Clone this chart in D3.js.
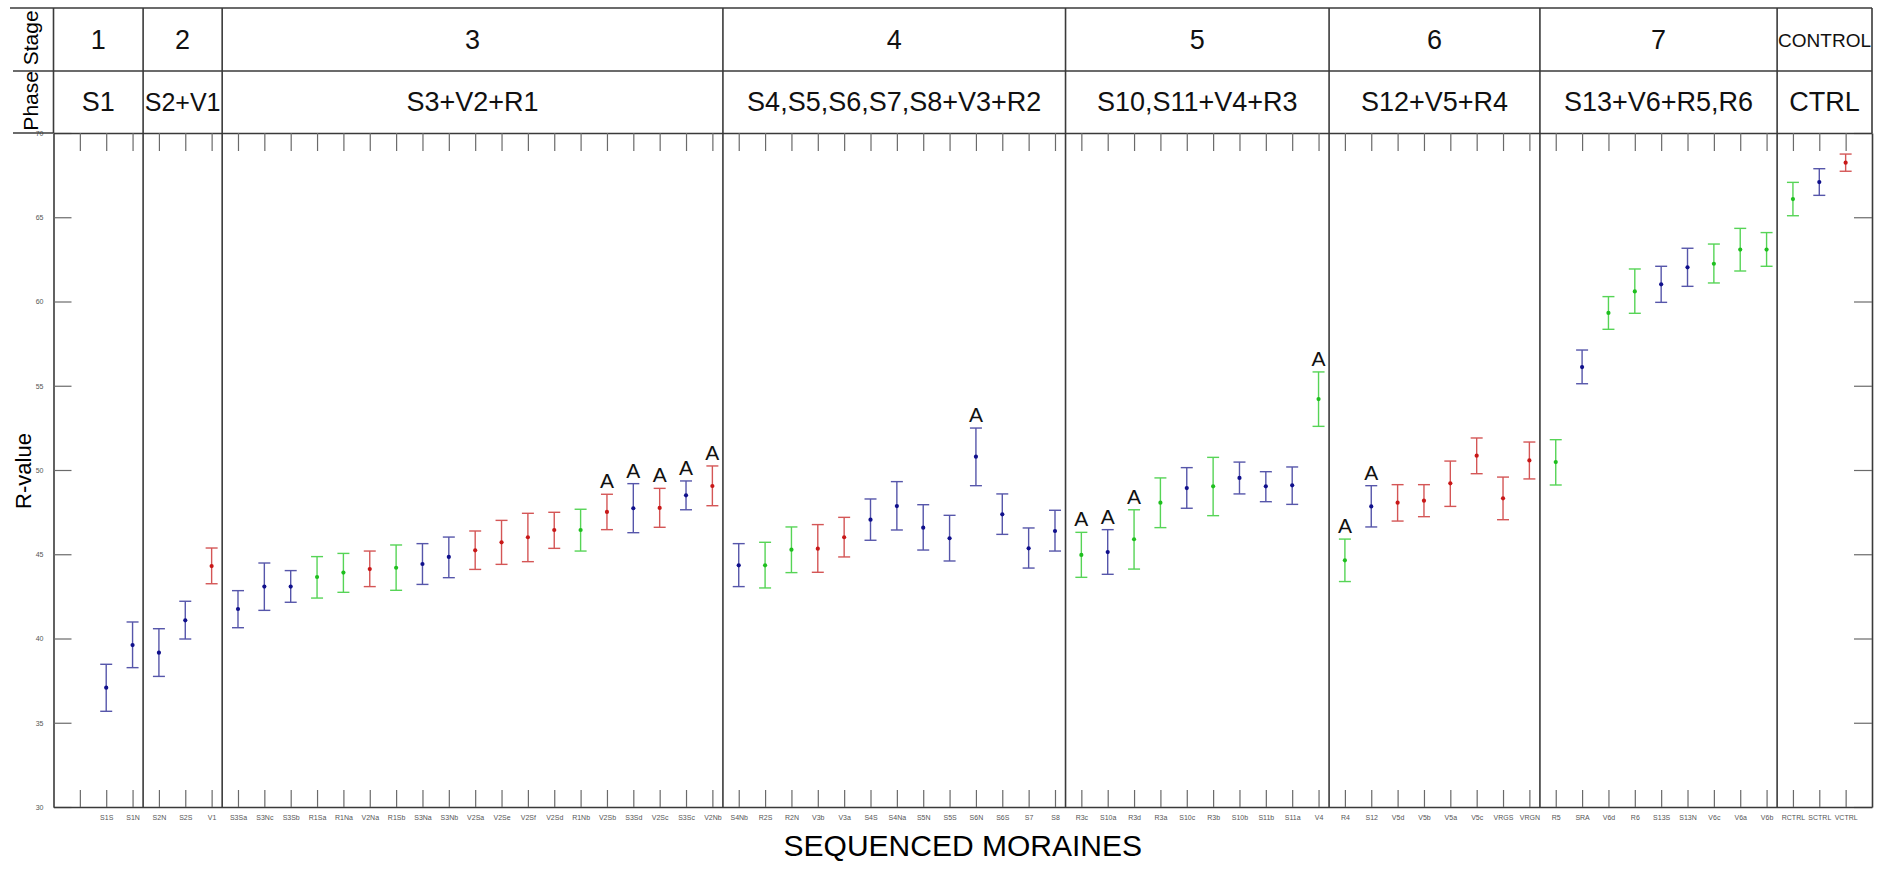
<!DOCTYPE html>
<html>
<head>
<meta charset="utf-8">
<script src="https://cdn.jsdelivr.net/npm/d3@7"></script>
<style>
  body { margin: 0; background: #fff; }
  svg { display: block; font-family: Arial, "Liberation Sans", sans-serif; }
</style>
</head>
<body>
<div id="wrapper"></div>
<script>
const width = 1879
const height = 869

// header rows
const stages = ["1", "2", "3", "4", "5", "6", "7", "CONTROL"]
const phases = ["S1", "S2+V1", "S3+V2+R1", "S4,S5,S6,S7,S8+V3+R2", "S10,S11+V4+R3", "S12+V5+R4", "S13+V6+R5,R6", "CTRL"]

// moraine sites of each stage (first slot of stage 1 is empty)
const groupSites = [
  ["", "S1S", "S1N"],
  ["S2N", "S2S", "V1"],
  ["S3Sa", "S3Nc", "S3Sb", "R1Sa", "R1Na", "V2Na", "R1Sb", "S3Na", "S3Nb", "V2Sa", "V2Se", "V2Sf", "V2Sd", "R1Nb", "V2Sb", "S3Sd", "V2Sc", "S3Sc", "V2Nb"],
  ["S4Nb", "R2S", "R2N", "V3b", "V3a", "S4S", "S4Na", "S5N", "S5S", "S6N", "S6S", "S7", "S8"],
  ["R3c", "S10a", "R3d", "R3a", "S10c", "R3b", "S10b", "S11b", "S11a", "V4"],
  ["R4", "S12", "V5d", "V5b", "V5a", "V5c", "VRGS", "VRGN"],
  ["R5", "SRA", "V6d", "R6", "S13S", "S13N", "V6c", "V6a", "V6b"],
  ["RCTRL", "SCTRL", "VCTRL"]
]
const sites = groupSites.flat()

// R-values, one per site (null = no sample)
const meanR = [null, 37.08, 39.61, 39.16, 41.08, 44.3,
  41.75, 43.08, 43.08, 43.65, 43.91, 44.12, 44.2, 44.42, 44.84, 45.23, 45.71, 46.01, 46.44, 46.44, 47.51, 47.73, 47.75, 48.5, 49.05,
  44.34, 44.34, 45.27, 45.33, 46.01, 47.05, 47.86, 46.58, 45.95, 50.79, 47.37, 45.35, 46.38,
  44.96, 45.13, 45.89, 48.06, 48.93, 49.03, 49.53, 49.03, 49.09, 54.21,
  44.64, 47.84, 48.06, 48.18, 49.21, 50.85, 48.32, 50.57,
  50.47, 56.11, 59.32, 60.6, 61.02, 62.03, 62.24, 63.08, 63.08,
  66.08, 67.09, 68.24]
const lowR = [null, 35.68, 38.27, 37.75, 39.97, 43.25,
  40.64, 41.67, 42.15, 42.4, 42.74, 43.08, 42.86, 43.21, 43.61, 44.1, 44.4, 44.56, 45.35, 45.19, 46.46, 46.28, 46.6, 47.64, 47.88,
  43.08, 43.0, 43.91, 43.93, 44.84, 45.83, 46.44, 45.25, 44.6, 49.07, 46.18, 44.18, 45.19,
  43.63, 43.81, 44.12, 46.58, 47.73, 47.29, 48.58, 48.12, 47.96, 52.59,
  43.38, 46.62, 46.97, 47.23, 47.84, 49.78, 47.05, 49.47,
  49.11, 55.12, 58.35, 59.3, 59.95, 60.9, 61.1, 61.81, 62.09,
  65.09, 66.3, 67.73]
const highR = [null, 38.47, 40.98, 40.58, 42.21, 45.37,
  42.84, 44.48, 44.03, 44.86, 45.05, 45.19, 45.55, 45.63, 46.02, 46.38, 47.01, 47.43, 47.49, 47.67, 48.56, 49.19, 48.91, 49.35, 50.24,
  45.63, 45.71, 46.62, 46.76, 47.19, 48.28, 49.31, 47.94, 47.31, 52.49, 48.58, 46.56, 47.61,
  46.3, 46.46, 47.64, 49.53, 50.14, 50.75, 50.47, 49.9, 50.18, 55.82,
  45.9, 49.07, 49.13, 49.13, 50.53, 51.9, 49.58, 51.66,
  51.8, 57.12, 60.29, 61.93, 62.09, 63.16, 63.41, 64.34, 64.09,
  67.07, 67.88, 68.75]
// colour class of each site: b / r / g
const colorKey = ["", "b", "b", "b", "b", "r",
  "b", "b", "b", "g", "g", "r", "g", "b", "b", "r", "r", "r", "r", "g", "r", "b", "r", "b", "r",
  "b", "g", "g", "r", "r", "b", "b", "b", "b", "b", "b", "b", "b",
  "g", "b", "g", "g", "b", "g", "b", "b", "b", "g",
  "g", "b", "r", "r", "r", "r", "r", "r",
  "g", "b", "g", "g", "b", "b", "g", "g", "g",
  "g", "b", "r"]
// sites marked with "A"
const markedA = ["V2Sb", "S3Sd", "V2Sc", "S3Sc", "V2Nb", "S6N", "R3c", "S10a", "R3d", "V4", "R4", "S12"]

const yTicks = [30, 35, 40, 45, 50, 55, 60, 65, 70]

const plotLeft = 53.5, plotRight = 1872, plotTop = 133, plotBottom = 807
const headTop = 8, headMid = 71

const x = d3.scalePoint().domain(sites).range([plotLeft, plotRight]).padding(1)
const y = d3.scaleLinear().domain([30, 70]).range([plotBottom, plotTop])
const lineColor = d3.scaleOrdinal(["b", "r", "g"], ["#5656aa", "#d45656", "#56d456"])
const dotColor = d3.scaleOrdinal(["b", "r", "g"], ["#10108c", "#c81818", "#1fbf1f"])

const svg = d3.select("#wrapper").append("svg")
    .attr("width", width)
    .attr("height", height)

// axes
svg.append("g")
    .attr("transform", `translate(${plotLeft},0)`)
    .call(d3.axisLeft(y).tickValues(yTicks).tickSizeInner(-18).tickSizeOuter(0).tickPadding(10))
svg.append("g")
    .attr("transform", `translate(${plotRight},0)`)
    .call(d3.axisRight(y).tickValues(yTicks).tickSizeInner(-18).tickSizeOuter(0).tickFormat(""))
svg.append("g")
    .attr("transform", `translate(0,${plotBottom})`)
    .call(d3.axisBottom(x).tickSizeInner(-17).tickSizeOuter(0).tickPadding(8))
svg.append("g")
    .attr("transform", `translate(0,${plotTop})`)
    .call(d3.axisTop(x).tickSizeInner(-18).tickSizeOuter(0).tickFormat(""))

svg.selectAll(".domain").attr("stroke", "#3a3a3a").attr("stroke-width", 1.6)
svg.selectAll(".tick line").attr("stroke", "#6a6a6a").attr("stroke-width", 1.2)
svg.selectAll(".tick text").attr("font-size", 7).attr("fill", "#555")

// header frame
const frame = svg.append("g").attr("stroke", "#3a3a3a").attr("stroke-width", 1.6)
frame.append("line").attr("x1", 10).attr("x2", plotRight).attr("y1", headTop).attr("y2", headTop)
frame.append("line").attr("x1", 13).attr("x2", plotRight).attr("y1", headMid).attr("y2", headMid)
frame.append("line").attr("x1", 13).attr("x2", plotLeft).attr("y1", plotTop).attr("y2", plotTop)
frame.append("line").attr("x1", plotLeft).attr("x2", plotLeft).attr("y1", headTop).attr("y2", plotTop)
frame.append("line").attr("x1", plotRight).attr("x2", plotRight).attr("y1", headTop).attr("y2", plotTop)

// stage dividers
const step = x.step()
const bounds = [plotLeft]
groupSites.forEach((g, i) => {
  if (i < groupSites.length - 1) bounds.push(x(g[g.length - 1]) + step * 0.4)
})
bounds.push(plotRight)
frame.selectAll(".divider")
    .data(bounds.slice(1, -1))
    .join("line")
    .attr("x1", d => d).attr("x2", d => d)
    .attr("y1", headTop).attr("y2", plotBottom)

// header labels
const head = svg.append("g").attr("text-anchor", "middle").attr("fill", "#111")
head.selectAll(".stage")
    .data(stages)
    .join("text")
    .attr("x", (d, i) => (bounds[i] + bounds[i + 1]) / 2)
    .attr("y", 40)
    .attr("dy", "0.35em")
    .attr("font-size", d => d.length > 3 ? 19 : 27)
    .text(d => d)
head.selectAll(".phase")
    .data(phases)
    .join("text")
    .attr("x", (d, i) => (bounds[i] + bounds[i + 1]) / 2)
    .attr("y", 102)
    .attr("dy", "0.35em")
    .attr("font-size", (d, i) => i === 1 ? 25 : 27)
    .text(d => d)

svg.append("text")
    .attr("transform", `translate(31,${(headTop + plotTop) / 2}) rotate(-90)`)
    .attr("text-anchor", "middle")
    .attr("dy", "0.35em")
    .attr("font-size", 21)
    .text("Phase Stage")

svg.append("text")
    .attr("transform", `translate(23,471) rotate(-90)`)
    .attr("text-anchor", "middle")
    .attr("dy", "0.35em")
    .attr("font-size", 22)
    .text("R-value")

svg.append("text")
    .attr("x", (plotLeft + plotRight) / 2)
    .attr("y", 856)
    .attr("text-anchor", "middle")
    .attr("font-size", 30)
    .text("SEQUENCED MORAINES")

// error bars
const rows = sites.map((s, i) => ({site: s, mean: meanR[i], lo: lowR[i], hi: highR[i], key: colorKey[i]}))
    .filter(d => d.mean != null)

const bars = svg.append("g").selectAll("g")
    .data(rows)
    .join("g")
    .attr("stroke", d => lineColor(d.key))
    .attr("stroke-width", 1.4)

bars.append("line")
    .attr("x1", d => x(d.site)).attr("x2", d => x(d.site))
    .attr("y1", d => y(d.lo)).attr("y2", d => y(d.hi))
bars.append("line")
    .attr("x1", d => x(d.site) - 6).attr("x2", d => x(d.site) + 6)
    .attr("y1", d => y(d.lo)).attr("y2", d => y(d.lo))
bars.append("line")
    .attr("x1", d => x(d.site) - 6).attr("x2", d => x(d.site) + 6)
    .attr("y1", d => y(d.hi)).attr("y2", d => y(d.hi))
bars.append("circle")
    .attr("cx", d => x(d.site))
    .attr("cy", d => y(d.mean))
    .attr("r", 2.1)
    .attr("stroke", "none")
    .attr("fill", d => dotColor(d.key))

svg.append("g").selectAll("text")
    .data(rows.filter(d => markedA.includes(d.site)))
    .join("text")
    .attr("x", d => x(d.site))
    .attr("y", d => y(d.hi) - 6)
    .attr("text-anchor", "middle")
    .attr("font-size", 21)
    .attr("fill", "#111")
    .text("A")
</script>
</body>
</html>
